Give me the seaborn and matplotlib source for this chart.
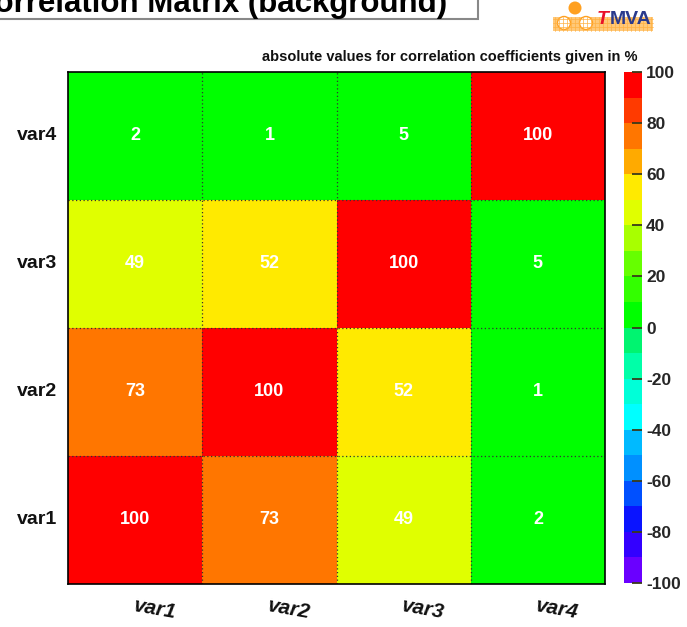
import numpy as np
import pandas as pd
import seaborn as sns
import matplotlib
matplotlib.use("Agg")
import matplotlib.pyplot as plt
from matplotlib.colors import ListedColormap, BoundaryNorm
from matplotlib.patches import Rectangle, Circle

# --- data -------------------------------------------------------------
variables = ["var1", "var2", "var3", "var4"]
corr_var1 = [100, 73, 49, 2]
corr_var2 = [73, 100, 52, 1]
corr_var3 = [49, 52, 100, 5]
corr_var4 = [2, 1, 5, 100]
cbar_ticks = [-100, -80, -60, -40, -20, 0, 20, 40, 60, 80, 100]

title = "Correlation Matrix (background)"
subtitle = "absolute values for correlation coefficients given in %"

# ROOT-like rainbow palette, 20 bins from -100 to 100
palette = ["#6a00ff", "#3300ff", "#0a14ff", "#0050ff", "#0090ff",
           "#00baff", "#00ffff", "#00ffd8", "#00ffa8", "#00f470",
           "#00ff00", "#33ff00", "#66ff00", "#a8ff00", "#e0ff00",
           "#ffea00", "#ffaa00", "#ff7600", "#ff3a00", "#ff0000"]

rows = [corr_var1, corr_var2, corr_var3, corr_var4]
df = pd.DataFrame(rows, index=variables, columns=variables)
# row var4 at top
df = df.iloc[::-1]

sns.set_theme(style="white")
plt.rcParams["font.family"] = ["Liberation Sans", "DejaVu Sans"]
plt.rcParams["axes.unicode_minus"] = False

W, H = 687, 627
fig = plt.figure(figsize=(W / 100, H / 100), dpi=100)
fig.patch.set_facecolor("white")

def fx(px):
    return px / W

def fy(py):
    return 1 - py / H

ax = fig.add_axes([fx(68), fy(584), fx(605) - fx(68), fy(72) - fy(584)])
cax = fig.add_axes([fx(624), fy(583), fx(642) - fx(624), fy(72) - fy(583)])

cmap = ListedColormap(palette)
norm = BoundaryNorm(np.arange(-100, 101, 10), cmap.N)

sns.heatmap(df, ax=ax, cbar_ax=cax, cmap=cmap, norm=norm,
            vmin=-100, vmax=100, annot=True, fmt="d",
            annot_kws={"color": "white", "fontsize": 13, "fontweight": "bold"},
            cbar_kws={"ticks": cbar_ticks})

# dotted cell boundaries
for k in range(1, 4):
    ax.axhline(k, color="#333333", lw=0.9, ls=(0, (1, 2)))
    ax.axvline(k, color="#333333", lw=0.9, ls=(0, (1, 2)))
for sp in ax.spines.values():
    sp.set_visible(True)
    sp.set_color("black")
    sp.set_linewidth(1.2)

ax.set_xlabel("")
ax.set_ylabel("")
ax.tick_params(axis="both", length=0, pad=8)
ax.set_yticklabels(df.index, rotation=0, fontsize=14, fontweight="bold",
                   color="#111111")
ax.set_xticklabels(df.columns, rotation=-10, fontsize=15, fontweight="bold",
                   fontstyle="italic", color="#111111")
for lab in ax.get_xticklabels():
    lab.set_rotation_mode("anchor")
    lab.set_ha("left")
ax.tick_params(axis="x", pad=9)

# colour bar: labels on the right, tick marks drawn inside the bar
cax.yaxis.set_minor_locator(matplotlib.ticker.NullLocator())
cax.tick_params(axis="y", which="major", length=0, labelsize=12.5, pad=3)
for lab in cax.get_yticklabels():
    lab.set_fontweight("bold")
for sp in cax.spines.values():
    sp.set_visible(False)
cax.hlines(cbar_ticks, 0.45, 1.0, transform=cax.get_yaxis_transform(),
           colors="#3a3a1a", lw=1.3, zorder=10, clip_on=False)

# subtitle above the matrix
fig.text(fx(637), fy(57), subtitle, ha="right", va="center",
         fontsize=10.5, fontweight="bold", color="#111111")

# title box (partly outside the canvas)
fig.patches.append(Rectangle((fx(-40), fy(19)), fx(518), fy(-40) - fy(19),
                             transform=fig.transFigure, facecolor="white",
                             edgecolor="#888888", lw=1.5, zorder=1))
fig.text(fx(447), fy(12), title, ha="right", va="baseline",
         fontsize=22.5, fontweight="bold", color="black", zorder=2)

# TMVA logo
lax = fig.add_axes([fx(548), fy(36), fx(660) - fx(548), fy(0) - fy(36)])
lax.set_xlim(548, 660)
lax.set_ylim(36, 0)
lax.axis("off")
lax.add_patch(Rectangle((553, 17), 100, 14, facecolor="#ffc878",
                        edgecolor="none"))
for gx in range(555, 653, 4):
    lax.plot([gx, gx], [17, 31], color="#ffb040", lw=0.5)
for gy in range(19, 31, 4):
    lax.plot([553, 653], [gy, gy], color="#ffb040", lw=0.5)
lax.add_patch(Circle((575, 8), 6.5, facecolor="#ffa020", edgecolor="none"))
lax.add_patch(Circle((564, 23), 6.5, facecolor="white", edgecolor="#ffa020",
                     lw=1))
lax.add_patch(Circle((586, 23), 6.5, facecolor="white", edgecolor="#ffa020",
                     lw=1))
lax.text(597, 19, "T", color="#e8102a", fontsize=14, fontweight="bold",
         fontstyle="italic", va="center", ha="left")
lax.text(610, 19, "MVA", color="#2a3a8c", fontsize=14, fontweight="bold",
         va="center", ha="left")

fig.savefig("out.png", dpi=100)
